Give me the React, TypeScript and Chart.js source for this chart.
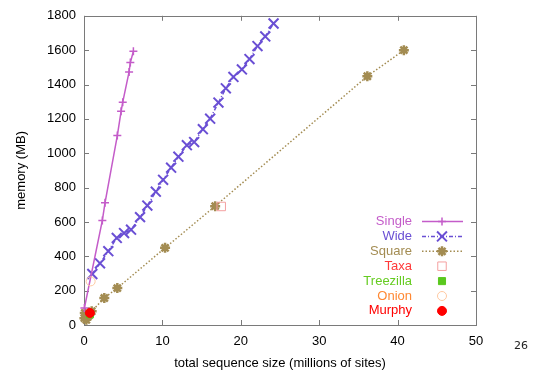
import React, { useEffect, useRef } from 'react';
import { Chart, registerables } from 'chart.js';

Chart.register(...registerables);

// ---- data ----
const xTickValues = [0, 10, 20, 30, 40, 50];
const yTickValues = [0, 200, 400, 600, 800, 1000, 1200, 1400, 1600, 1800];

const singleX = [0.05, 2.34, 2.68, 4.25, 4.73, 4.94, 5.75, 5.91, 6.3];
const singleY = [99, 609, 711, 1103, 1244, 1297, 1473, 1528, 1594];

const wideX = [1.06, 2.04, 3.1, 4.18, 5.11, 6.0, 7.15, 8.08, 9.16, 10.09, 11.11, 12.04, 13.12, 14.05, 15.16, 16.09, 17.15, 18.09, 19.06, 20.14, 21.11, 22.13, 23.12, 24.18];
const wideY = [297, 359, 430, 507, 535, 555, 628, 695, 776, 845, 916, 980, 1047, 1065, 1140, 1201, 1295, 1378, 1444, 1488, 1548, 1624, 1680, 1755];

const squareX = [0.05, 0.1, 0.3, 0.6, 0.98, 2.59, 4.25, 10.34, 16.73, 36.14, 40.8];
const squareY = [40, 70, 30, 55, 80, 157, 215, 449, 692, 1448, 1600];

const taxaX = [17.5];
const taxaY = [690];
const treezillaX = [0.75];
const treezillaY = [62];
const onionX = [0.85];
const onionY = [254];
const murphyX = [0.75];
const murphyY = [70];

const seriesLabels = ['Single', 'Wide', 'Square', 'Taxa', 'Treezilla', 'Onion', 'Murphy'];

// ---- styles ----
const FONT = '"Liberation Sans", Arial, sans-serif';
const C_SINGLE = '#c45cc9';
const C_WIDE = '#6a4fd4';
const C_SQUARE = '#a38c52';
const C_TAXA = '#f4a0a0';
const C_TREE = '#5ac81e';
const C_ONION = '#ffc8a0';
const C_MURPHY = '#ff0000';

const pts = (xs: number[], ys: number[]) => xs.map((x, i) => ({ x, y: ys[i] }));

type LegendItem = {
  label: string;
  textColor: string;
  color: string;
  line: boolean;
  dash: number[];
  style: string;
  r: number;
  w: number;
  fill: boolean;
};

const legendItems: LegendItem[] = [
  { label: seriesLabels[0], textColor: C_SINGLE, color: C_SINGLE, line: true, dash: [], style: 'cross', r: 4, w: 1.5, fill: false },
  { label: seriesLabels[1], textColor: C_WIDE, color: C_WIDE, line: true, dash: [4, 2, 1, 2], style: 'crossRot', r: 7, w: 2, fill: false },
  { label: seriesLabels[2], textColor: C_SQUARE, color: C_SQUARE, line: true, dash: [1.5, 2], style: 'star', r: 5, w: 2.5, fill: false },
  { label: seriesLabels[3], textColor: '#ff3a3a', color: C_TAXA, line: false, dash: [], style: 'rect', r: 6, w: 1, fill: false },
  { label: seriesLabels[4], textColor: '#66cc22', color: C_TREE, line: false, dash: [], style: 'rect', r: 5, w: 1, fill: true },
  { label: seriesLabels[5], textColor: '#ff8833', color: C_ONION, line: false, dash: [], style: 'circle', r: 4.5, w: 1, fill: false },
  { label: seriesLabels[6], textColor: '#ff0000', color: C_MURPHY, line: false, dash: [], style: 'circle', r: 4.5, w: 1, fill: true },
];

function drawMarker(ctx: CanvasRenderingContext2D, it: LegendItem, x: number, y: number) {
  ctx.save();
  ctx.strokeStyle = it.color;
  ctx.fillStyle = it.color;
  ctx.lineWidth = it.w;
  ctx.setLineDash([]);
  const r = it.r;
  ctx.beginPath();
  if (it.style === 'cross' || it.style === 'star') {
    ctx.moveTo(x, y - r); ctx.lineTo(x, y + r);
    ctx.moveTo(x - r, y); ctx.lineTo(x + r, y);
  }
  if (it.style === 'crossRot' || it.style === 'star') {
    const o = Math.SQRT1_2 * r;
    ctx.moveTo(x - o, y - o); ctx.lineTo(x + o, y + o);
    ctx.moveTo(x - o, y + o); ctx.lineTo(x + o, y - o);
  }
  if (it.style === 'rect') {
    const s = Math.SQRT1_2 * r;
    ctx.rect(x - s, y - s, 2 * s, 2 * s);
  }
  if (it.style === 'circle') {
    ctx.arc(x, y, r, 0, Math.PI * 2);
  }
  if (it.fill) ctx.fill();
  ctx.stroke();
  ctx.restore();
}

const framePlugin = {
  id: 'frame',
  beforeDatasetsDraw(chart: any) {
    const { ctx, chartArea, scales } = chart;
    const { left, right, top, bottom } = chartArea;
    ctx.save();
    ctx.strokeStyle = '#7a7a7a';
    ctx.lineWidth = 1;
    ctx.strokeRect(Math.round(left) + 0.5, Math.round(top) + 0.5, Math.round(right - left), Math.round(bottom - top));
    const tl = 5;
    ctx.beginPath();
    xTickValues.forEach((v) => {
      const px = Math.round(scales.x.getPixelForValue(v)) + 0.5;
      ctx.moveTo(px, bottom); ctx.lineTo(px, bottom - tl);
      ctx.moveTo(px, top); ctx.lineTo(px, top + tl);
    });
    yTickValues.forEach((v) => {
      const py = Math.round(scales.y.getPixelForValue(v)) + 0.5;
      ctx.moveTo(left, py); ctx.lineTo(left + tl, py);
      ctx.moveTo(right, py); ctx.lineTo(right - tl, py);
    });
    ctx.stroke();
    ctx.restore();
  },
};

const legendPlugin = {
  id: 'customLegend',
  afterDraw(chart: any) {
    const { ctx, chartArea } = chart;
    const textRight = chartArea.right - 64;
    const x0 = chartArea.right - 54;
    const x1 = chartArea.right - 13;
    const xm = chartArea.right - 34;
    const y0 = chartArea.bottom - 103.5;
    const step = 14.9;
    ctx.save();
    ctx.font = `13px ${FONT}`;
    ctx.textAlign = 'right';
    ctx.textBaseline = 'middle';
    legendItems.forEach((it, i) => {
      const y = y0 + i * step;
      ctx.fillStyle = it.textColor;
      ctx.fillText(it.label, textRight, y);
      if (it.line) {
        ctx.save();
        ctx.strokeStyle = it.color;
        ctx.lineWidth = 1.5;
        ctx.setLineDash(it.dash);
        ctx.beginPath();
        ctx.moveTo(x0, y);
        ctx.lineTo(x1, y);
        ctx.stroke();
        ctx.restore();
      }
      drawMarker(ctx, it, xm, y);
    });
    ctx.restore();
  },
};

export default function App() {
  const ref = useRef<HTMLCanvasElement | null>(null);

  useEffect(() => {
    if (!ref.current) return;
    Chart.defaults.font.family = FONT;
    Chart.defaults.color = '#000';
    const chart = new Chart(ref.current, {
      type: 'scatter',
      data: {
        datasets: [
          {
            label: seriesLabels[0], data: pts(singleX, singleY), showLine: true, order: 4,
            borderColor: C_SINGLE, backgroundColor: C_SINGLE, borderWidth: 1.5,
            pointStyle: 'cross', pointRadius: 4, pointBorderWidth: 1.5, pointBorderColor: C_SINGLE,
            clip: false,
          },
          {
            label: seriesLabels[1], data: pts(wideX, wideY), showLine: true, order: 5,
            borderColor: C_WIDE, backgroundColor: C_WIDE, borderWidth: 1.5, borderDash: [4, 2, 1, 2],
            pointStyle: 'crossRot', pointRadius: 7, pointBorderWidth: 2, pointBorderColor: C_WIDE,
            clip: false,
          },
          {
            label: seriesLabels[2], data: pts(squareX, squareY), showLine: true, order: 6,
            borderColor: C_SQUARE, backgroundColor: C_SQUARE, borderWidth: 1.5, borderDash: [1.5, 2],
            pointStyle: 'star', pointRadius: 5, pointBorderWidth: 2.5, pointBorderColor: C_SQUARE,
            clip: false,
          },
          {
            label: seriesLabels[3], data: pts(taxaX, taxaY), showLine: false, order: 3,
            pointStyle: 'rect', pointRadius: 6, pointBorderWidth: 1, pointBorderColor: C_TAXA,
            pointBackgroundColor: 'rgba(0,0,0,0)', clip: false,
          },
          {
            label: seriesLabels[4], data: pts(treezillaX, treezillaY), showLine: false, order: 2,
            pointStyle: 'rect', pointRadius: 5, pointBorderWidth: 1, pointBorderColor: C_TREE,
            pointBackgroundColor: C_TREE, clip: false,
          },
          {
            label: seriesLabels[5], data: pts(onionX, onionY), showLine: false, order: 1,
            pointStyle: 'circle', pointRadius: 4.5, pointBorderWidth: 1, pointBorderColor: C_ONION,
            pointBackgroundColor: 'rgba(0,0,0,0)', clip: false,
          },
          {
            label: seriesLabels[6], data: pts(murphyX, murphyY), showLine: false, order: 0,
            pointStyle: 'circle', pointRadius: 4.5, pointBorderWidth: 1, pointBorderColor: C_MURPHY,
            pointBackgroundColor: C_MURPHY, clip: false,
          },
        ],
      },
      options: {
        responsive: false,
        animation: false,
        layout: { padding: { top: 14, right: 65, bottom: 0, left: 0 } },
        plugins: { legend: { display: false }, tooltip: { enabled: false } },
        scales: {
          x: {
            type: 'linear', min: 0, max: 50,
            afterBuildTicks: (s: any) => { s.ticks = xTickValues.map((v) => ({ value: v })); },
            afterFit: (s: any) => { s.height = 52; },
            ticks: { padding: 9, color: '#000', font: { size: 13, family: FONT }, callback: (v: any) => String(v) },
            grid: { display: false, drawTicks: false },
            border: { display: false },
            title: { display: true, text: 'total sequence size (millions of sites)', color: '#000', font: { size: 13, family: FONT }, padding: { top: 0, bottom: 6 } },
          },
          y: {
            type: 'linear', min: 0, max: 1800,
            afterBuildTicks: (s: any) => { s.ticks = yTickValues.map((v) => ({ value: v })); },
            afterFit: (s: any) => { s.width = 84; },
            ticks: { padding: 8, color: '#000', font: { size: 13, family: FONT }, callback: (v: any) => String(v) },
            grid: { display: false, drawTicks: false },
            border: { display: false },
            title: { display: true, text: 'memory (MB)', color: '#000', font: { size: 13, family: FONT }, padding: { top: 14, bottom: 0 } },
          },
        },
      },
      plugins: [framePlugin, legendPlugin],
    } as any);
    return () => chart.destroy();
  }, []);

  return (
    <div style={{ position: 'absolute', left: 0, top: 0, width: 541, height: 377, background: '#fff' }}>
      <canvas ref={ref} width={541} height={377} style={{ display: 'block' }} />
      <span style={{ position: 'absolute', left: 514, top: 339, fontFamily: '"DejaVu Sans", sans-serif', fontSize: 11, color: '#222' }}>26</span>
    </div>
  );
}
